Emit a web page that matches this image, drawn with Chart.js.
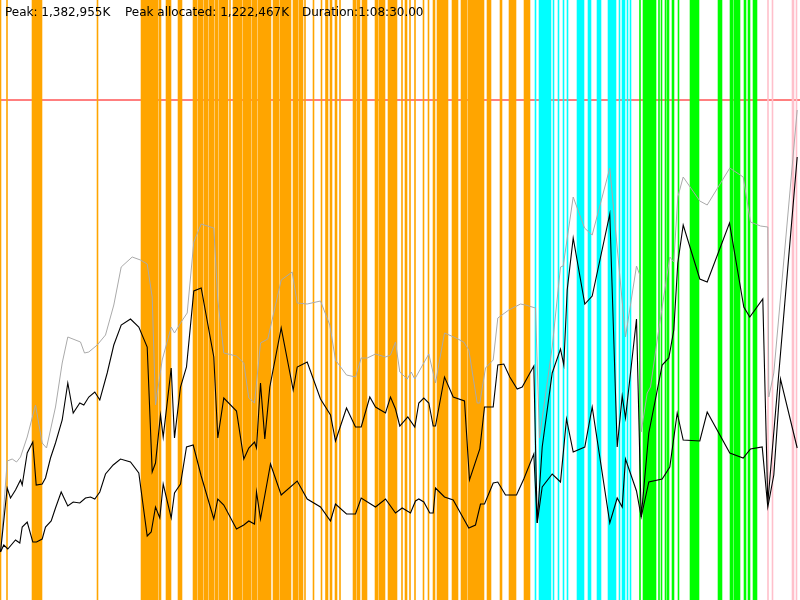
<!DOCTYPE html>
<html>
<head>
<meta charset="utf-8">
<title>Memory usage</title>
<script src="https://cdn.jsdelivr.net/npm/chart.js@4.4.0/dist/chart.umd.min.js"></script>
<style>
    body { margin: 0; background: #fff; }
    #wrap { position: relative; width: 800px; height: 600px; }
    #info { position: absolute; left: 0; top: 5px; width: 800px; height: 16px;
            font: 12px "DejaVu Sans", sans-serif; color: #000; white-space: nowrap; }
    #info span { position: absolute; top: 0; }
</style>
</head>
<body>
<div id="wrap">
    <canvas id="memChart" width="800" height="600"></canvas>
    <div id="info">
        <span id="peakText" style="left:5px"></span>
        <span id="allocText" style="left:125px"></span>
        <span id="durText" style="left:302px"></span>
    </div>
</div>
<script>
    // summary
    const peakK = '1,382,955K';
    const peakAllocatedK = '1,222,467K';
    const duration = '1:08:30.00';

    // chart extent (time on x, memory height on y)
    const timeMax = 800;
    const memMax = 600;
    const peakLevel = 500;

    // events (time)
    const orangeEvents = [
        0, 6.5, 32, 33, 34, 35, 36, 37, 38, 39, 40, 41, 97,
        141, 142, 143, 144.5, 145, 146, 147, 148, 149, 150.5, 152, 153, 154, 155, 156, 157, 159, 160,
        166, 167, 168, 169, 170, 178, 179, 180, 181,
        193, 194, 195, 196, 198, 199, 200, 201, 202, 204, 205, 206, 207, 209, 210, 211, 212, 213,
        215, 216, 217, 219, 220, 221, 222, 223, 224, 225, 226, 227, 229.5,
        233, 234, 235, 236, 237, 238, 239, 240, 241, 243, 244, 245, 246, 247, 248, 249, 250,
        252, 253, 254, 255, 256, 258, 259, 260, 261, 262, 263, 264, 265, 266, 267, 268, 269, 270,
        273, 274, 275, 276, 277, 278, 280, 281, 282, 283, 284, 285, 286, 287, 288, 289, 290,
        293, 294, 295, 296, 297, 299, 300, 301, 302, 304.5,
        313, 321, 325.5, 327, 330, 331, 335, 336, 339.5,
        353, 354, 355, 357, 358, 359, 362, 363, 364, 365, 366,
        375, 376, 377, 379, 380, 381, 382, 383, 384,
        388, 389, 390, 391, 392, 393, 394, 395, 396,
        401.5, 405, 406, 409.5, 414.5, 423, 428, 433, 434, 437, 438, 439, 440.5,
        442, 443, 444, 445, 446, 447, 452, 453, 454, 455, 456, 457,
        461, 462, 463, 464, 465, 466, 468, 469, 470, 471, 472, 473, 474, 475,
        476, 477, 478, 479, 480, 481, 482, 483, 487, 488, 489, 490,
        500, 501, 509, 510, 511, 512, 513, 514, 515, 524, 525, 526, 527, 528, 529
    ];
    const cyanEvents = [
        535, 539, 540, 541, 542, 543, 544, 545, 546, 547, 548, 549, 550, 553, 558, 563, 567,
        577, 578, 579, 580, 581, 582, 583, 588, 589, 590, 597, 598, 599, 600,
        608, 609, 610, 611, 612, 613, 614, 615, 619, 622, 623, 624, 627, 630
    ];
    const greenEvents = [
        639.5, 643, 644, 645, 646, 647, 648, 649, 650, 651, 652, 653, 654, 655, 658.5, 661, 665,
        667, 668, 672, 673, 678, 690, 691, 692, 693, 694, 695, 696, 697, 698,
        718, 719, 720, 721, 730, 731, 732, 734, 735, 736, 737, 738, 739,
        744, 745, 748, 749, 753, 754, 755, 756
    ];
    const pinkEvents = [767.5, 772, 792, 793, 796];

    // [time, memory]
    const heapSize = [
        [0, 48], [6.7, 139], [11.7, 141], [16, 138], [20, 143], [26.7, 163], [35, 195], [41.7, 157], [46, 152],
        [55, 193], [61.7, 237], [67.3, 263], [80, 258], [84, 247], [88.3, 248], [96.7, 255], [105, 265],
        [113.3, 295], [120.7, 333], [131.7, 343], [140, 340], [146.7, 336], [151.7, 303], [155, 195],
        [161.7, 240], [170.7, 273], [174, 267], [180, 277], [186.7, 287], [193.3, 358], [200.7, 376],
        [213.3, 372], [217.3, 300], [223.3, 247], [236, 244], [243.3, 237], [248.3, 202], [254, 197],
        [260, 257], [267.3, 261], [280.7, 320], [291.7, 328], [296.7, 297], [306.7, 296], [320, 299],
        [329.3, 275], [335, 240], [346, 225], [355, 223], [360.7, 242], [366.7, 242], [375, 246],
        [385, 243], [390, 245], [395, 258], [399.3, 228], [406.7, 221], [410.7, 228], [414.3, 221],
        [428.3, 246], [435, 217], [444, 267], [453.3, 263], [463.3, 258], [468.3, 250], [476.7, 197],
        [479.3, 197], [485, 232], [492.7, 240], [497.3, 282], [508.3, 290], [520, 296], [525, 295],
        [535, 292], [539, 162], [551.7, 253], [560, 333], [562.7, 334], [572.7, 403], [584, 372],
        [591.7, 365], [609.3, 432], [625, 263], [636, 334], [639.3, 325], [640.7, 168], [646.7, 207],
        [650, 213], [656.7, 260], [669.3, 343], [673.3, 338], [677.3, 403], [682.7, 423], [699.3, 399],
        [706.7, 395], [729.3, 432], [742.7, 423], [750, 378], [760, 374], [767.3, 373], [768.3, 203],
        [773.3, 227], [796.7, 490]
    ];
    const usedBefore = [
        [0, 48], [6.7, 112], [10, 102], [15, 110], [20, 120], [21.7, 115], [26.7, 147], [32.3, 158],
        [35.7, 115], [41.7, 116], [45, 122], [50, 142], [55, 157], [61.7, 180], [67.3, 217], [72.7, 187],
        [79.3, 197], [83.3, 195], [88.3, 203], [94.3, 208], [99.3, 200], [106.7, 227], [113.3, 255],
        [120.7, 275], [130, 281], [138.3, 273], [146.7, 253], [151.7, 128], [155, 137], [160, 185],
        [162.7, 163], [170.7, 232], [174, 162], [180, 213], [186, 233], [193.3, 309], [200.7, 312],
        [213.3, 243], [217.3, 162], [223.3, 202], [236, 189], [243.3, 141], [248.3, 152], [254, 158],
        [256, 152], [260, 217], [264.3, 161], [269.3, 213], [280.7, 272], [292.7, 210], [296.7, 233],
        [306.7, 238], [320, 201], [330, 185], [335, 159], [346, 192], [355, 173], [360.7, 173],
        [369.3, 203], [375, 193], [385, 187], [390, 203], [395, 191], [399.3, 174], [407.3, 183],
        [414.3, 173], [418.3, 197], [423.3, 202], [428.3, 197], [432.7, 174], [435, 174], [444, 223],
        [452.7, 203], [464, 199], [469, 120], [479.3, 151], [484, 193], [492.7, 193], [497.3, 235],
        [503.3, 236], [509.3, 223], [516.7, 211], [521.7, 213], [533.3, 234], [536.7, 77], [541.7, 153],
        [551.7, 227], [560, 251], [563.3, 235], [566.7, 310], [572.7, 362], [584.3, 296], [591.7, 304],
        [609.3, 386], [616.7, 153], [621.7, 204], [625, 182], [636, 281], [640.7, 83], [648.3, 167],
        [661.7, 235], [668.3, 242], [673.3, 270], [677.3, 337], [682.7, 375], [699.3, 321], [706.7, 318],
        [729, 377], [743.3, 293], [749.3, 283], [762.3, 301], [767.3, 97], [796.7, 443]
    ];
    const usedAfter = [
        [0, 48], [3.3, 55], [7.3, 51], [15, 60], [19.3, 57], [21.7, 73], [26.7, 78], [32.3, 58], [36, 58],
        [41.7, 61], [45, 73], [50.7, 79], [55, 92], [60.7, 108], [67.3, 94], [72.7, 98], [79.3, 97],
        [85, 102], [90, 103], [94.3, 101], [99.3, 108], [105, 126], [112.7, 135], [120, 141], [130, 138],
        [138.3, 127], [146.7, 64], [150.7, 68], [155, 93], [159.3, 82], [162.7, 116], [170.7, 82],
        [174, 107], [180, 116], [186, 153], [192.7, 155], [200.7, 124], [213.3, 81], [217.3, 101],
        [223.3, 95], [236, 71], [243.3, 75], [248.3, 79], [254, 76], [256, 108], [260, 81], [270, 136],
        [280.7, 105], [296.7, 119], [306.7, 101], [320, 93], [330, 79], [335, 96], [346, 86], [355, 86],
        [360.7, 102], [375, 93], [385, 101], [395, 87], [401.7, 92], [410, 87], [415, 99], [418.3, 101],
        [423.3, 98], [429.3, 87], [432.7, 87], [435, 112], [444, 103], [452.7, 100], [468.3, 72],
        [475, 75], [480, 96], [484, 96], [492.7, 117], [497.3, 118], [505, 105], [516, 105], [523.3, 121],
        [533.3, 146], [536.7, 77], [541.7, 113], [551.7, 126], [560, 118], [566, 181], [572.7, 148],
        [584.3, 153], [591.7, 193], [609.3, 77], [616.7, 102], [621.7, 93], [625, 141], [636, 109],
        [640.7, 83], [648.3, 118], [661.7, 121], [669.3, 133], [676.7, 187], [682.7, 160], [699.3, 159],
        [706.7, 188], [729.3, 147], [742.7, 142], [750, 151], [761.7, 153], [767.3, 93], [773.3, 125],
        [780, 221], [796.7, 152]
    ];

    document.getElementById('peakText').textContent = 'Peak: ' + peakK;
    document.getElementById('allocText').textContent = 'Peak allocated: ' + peakAllocatedK;
    document.getElementById('durText').textContent = 'Duration:' + duration;

    function eventLines(times) {
        const pts = [];
        times.forEach(t => {
            pts.push({ x: t, y: 0 }, { x: t, y: memMax }, { x: t, y: null });
        });
        return pts;
    }

    function toPoints(pairs) {
        return pairs.map(p => ({ x: p[0], y: p[1] }));
    }

    function eventSet(times, color) {
        return {
            data: eventLines(times),
            borderColor: color,
            borderWidth: 1.6,
            spanGaps: false,
            order: 5
        };
    }

    const ctx = document.getElementById('memChart').getContext('2d');
    window.memChart = new Chart(ctx, {
        type: 'line',
        data: {
            datasets: [
                {
                    // peak line sits behind the event lines
                    data: [{ x: -0.5, y: peakLevel }, { x: timeMax, y: peakLevel }],
                    borderColor: '#ff0000',
                    borderWidth: 1,
                    order: 10
                },
                eventSet(orangeEvents, '#ffa500'),
                eventSet(cyanEvents, '#00ffff'),
                eventSet(greenEvents, '#00ff00'),
                eventSet(pinkEvents, '#ffc0cb'),
                {
                    data: toPoints(heapSize),
                    borderColor: '#aaaaaa',
                    borderWidth: 1,
                    order: 3
                },
                {
                    data: toPoints(usedBefore),
                    borderColor: '#000000',
                    borderWidth: 1.1,
                    order: 2
                },
                {
                    data: toPoints(usedAfter),
                    borderColor: '#000000',
                    borderWidth: 1.1,
                    order: 2
                }
            ]
        },
        options: {
            responsive: false,
            animation: false,
            devicePixelRatio: 1,
            layout: { padding: 0, autoPadding: false },
            elements: { point: { radius: 0 }, line: { tension: 0, fill: false } },
            plugins: { legend: { display: false }, tooltip: { enabled: false } },
            scales: {
                x: { type: 'linear', min: -0.5, max: timeMax - 0.5, display: false },
                y: { type: 'linear', min: 0, max: memMax, display: false }
            }
        }
    });
</script>
</body>
</html>
